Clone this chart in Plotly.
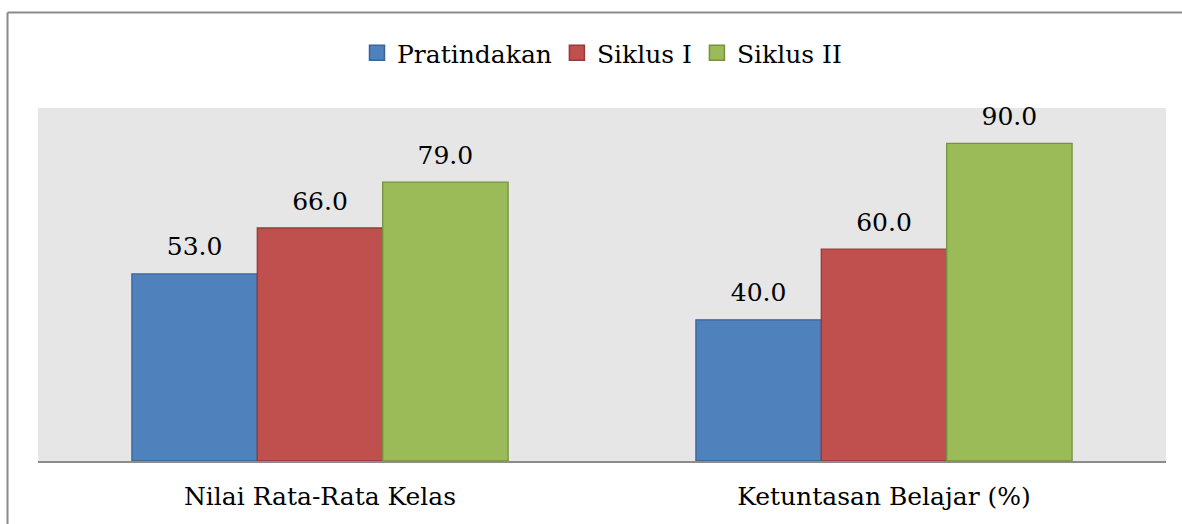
import plotly.graph_objects as go

categories = ["Nilai Rata-Rata Kelas", "Ketuntasan Belajar (%)"]
series_names = ["Pratindakan", "Siklus I", "Siklus II"]
pratindakan = [53.0, 40.0]
siklus1 = [66.0, 60.0]
siklus2 = [79.0, 90.0]

fills = ["#4F81BD", "#C0504D", "#9BBB59"]
edges = ["#3A6595", "#953A38", "#76913F"]
FONT = "DejaVu Serif"
FS = 25

fig = go.Figure()
for name, vals, fc, ec in zip(series_names, [pratindakan, siklus1, siklus2], fills, edges):
    fig.add_trace(go.Bar(
        x=categories, y=vals, name=name, showlegend=False,
        offsetgroup=name, alignmentgroup="g",
        marker=dict(color=fc, line=dict(color=ec, width=1.3)),
        hoverinfo="skip",
    ))
    # value labels, aligned with the grouped bars
    fig.add_trace(go.Scatter(
        x=categories, y=vals, name=name, showlegend=False,
        offsetgroup=name, alignmentgroup="g",
        mode="markers+text", text=[f"{v:.1f}" for v in vals],
        textposition="top center",
        textfont=dict(family=FONT, size=FS, color="black"),
        marker=dict(size=18, opacity=0), cliponaxis=False, hoverinfo="skip",
    ))
    fig.add_trace(go.Scatter(
        x=[None], y=[None], mode="markers", name=name,
        marker=dict(symbol="square", size=15, color=fc, line=dict(color=ec, width=1.5)),
    ))

W, H = 1182, 524
L, T = 38, 108
R = W - 1166
B = H - 461
pw, ph = W - L - R, H - T - B

def px_x(x):
    return (x - L) / pw

def px_y(y):
    return 1 + (T - y) / ph

fig.add_shape(type="line", xref="paper", yref="paper",
              x0=px_x(7.5), x1=px_x(1200), y0=px_y(12.5), y1=px_y(12.5),
              line=dict(color="#8A8A8A", width=2))
fig.add_shape(type="line", xref="paper", yref="paper",
              x0=px_x(7.5), x1=px_x(7.5), y0=px_y(12.5), y1=px_y(540),
              line=dict(color="#8A8A8A", width=2))

fig.update_layout(
    width=W, height=H,
    margin=dict(l=L, r=R, t=T, b=B, autoexpand=False),
    paper_bgcolor="white", plot_bgcolor="#E6E6E6",
    barmode="group", bargap=0.333, bargroupgap=0,
    scattermode="group", scattergap=0.333,
    font=dict(family=FONT, size=FS, color="black"),
    showlegend=True,
    legend=dict(orientation="h", x=0.5, xanchor="center", y=px_y(53), yanchor="middle",
                font=dict(family=FONT, size=FS, color="black"),
                itemwidth=30, bgcolor="rgba(0,0,0,0)", tracegroupgap=0),
    xaxis=dict(showline=True, linecolor="#8C8C8C", linewidth=2, ticks="outside",
               ticklen=12, tickcolor="rgba(0,0,0,0)", showgrid=False, automargin=False,
               tickfont=dict(family=FONT, size=FS, color="black")),
    yaxis=dict(range=[0, 100], visible=False, showgrid=False, zeroline=False, automargin=False),
)

fig.write_html("out.html", config={"displayModeBar": False},
               post_script="document.body.style.margin='0';")
